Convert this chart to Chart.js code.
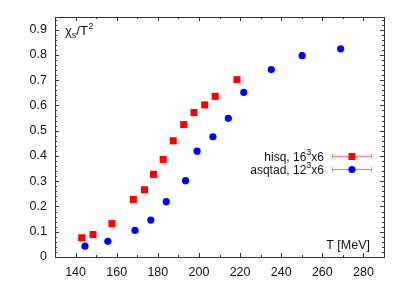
<!DOCTYPE html>
<html><head><meta charset="utf-8">
<script src="https://cdn.jsdelivr.net/npm/chart.js@4/dist/chart.umd.min.js"></script>
<style>html,body{margin:0;padding:0;background:#fff;}canvas{display:block;}</style>
</head><body>
<canvas id="c" width="407" height="285"></canvas>
<script>
const hisqT = [143, 148.5, 157.7, 168.1, 173.5, 177.9, 182.6, 187.5, 192.6, 197.6, 202.8, 207.9, 218.5];
const hisqChi = [0.076, 0.089, 0.132, 0.228, 0.266, 0.327, 0.386, 0.46, 0.524, 0.572, 0.602, 0.636, 0.702];
const asqtadT = [144.6, 155.7, 168.9, 176.6, 184.1, 193.5, 199.1, 206.8, 214.3, 221.8, 235.2, 250.2, 268.9];
const asqtadChi = [0.043, 0.062, 0.105, 0.146, 0.219, 0.302, 0.419, 0.476, 0.549, 0.652, 0.742, 0.797, 0.824];
const xTicks = [140, 160, 180, 200, 220, 240, 260, 280];
const yTicks = [0, 0.1, 0.2, 0.3, 0.4, 0.5, 0.6, 0.7, 0.8, 0.9];
// legend labels split as [base, superscript, tail]
const seriesNames = [['hisq, 16', '3', 'x6'], ['asqtad, 12', '3', 'x6']];
const FONT = '"Liberation Sans", Arial, sans-serif';

const frame = {
  id: 'frame',
  afterDraw(chart) {
    const {ctx, chartArea: a, scales: {x, y}} = chart;
    ctx.save();
    ctx.strokeStyle = '#333';
    ctx.lineWidth = 1;
    ctx.strokeRect(a.left + 0.5, a.top + 0.5, a.right - a.left, a.bottom - a.top);
    ctx.beginPath();
    for (let v = 130; v <= 290; v += 10) {
      const px = Math.round(x.getPixelForValue(v)) + 0.5;
      const L = (v % 20 === 0) ? 4 : 2;
      ctx.moveTo(px, a.bottom); ctx.lineTo(px, a.bottom - L);
      ctx.moveTo(px, a.top); ctx.lineTo(px, a.top + L);
    }
    for (let i = 0; i <= 47; i++) {
      const v = i * 0.02;
      const py = Math.round(y.getPixelForValue(v)) + 0.5;
      const L = (i % 5 === 0) ? 4 : 2;
      ctx.moveTo(a.left, py); ctx.lineTo(a.left + L, py);
      ctx.moveTo(a.right, py); ctx.lineTo(a.right - L, py);
    }
    ctx.stroke();
    // axis titles
    ctx.fillStyle = '#111';
    ctx.textBaseline = 'alphabetic';
    ctx.textAlign = 'left';
    let tx = a.left + 10, ty = a.top + 18;
    ctx.font = '13px ' + FONT;
    ctx.fillText('χ', tx, ty); tx += ctx.measureText('χ').width;
    ctx.font = '9px ' + FONT;
    ctx.fillText('s', tx, ty + 3); tx += ctx.measureText('s').width;
    ctx.font = '13px ' + FONT;
    ctx.fillText('/T', tx, ty); tx += ctx.measureText('/T').width;
    ctx.font = '9px ' + FONT;
    ctx.fillText('2', tx + 0.5, ty - 6);
    ctx.font = '12.5px ' + FONT;
    ctx.textAlign = 'right';
    ctx.fillText('T [MeV]', a.right - 14, a.bottom - 8);
    // legend
    const rows = [
      {name: seriesNames[0], y: 156, col: '#ff0000', line: '#ff8c8c', style: 'rect'},
      {name: seriesNames[1], y: 169, col: '#0000ff', line: '#8c8cff', style: 'circle'}
    ];
    rows.forEach(r => {
      const [base, sup, tail] = r.name;
      const bl = r.y + 5;
      ctx.textAlign = 'left';
      ctx.textBaseline = 'alphabetic';
      ctx.fillStyle = '#111';
      ctx.font = '12px ' + FONT;
      const wB = ctx.measureText(base).width, wT = ctx.measureText(tail).width;
      ctx.font = '9px ' + FONT;
      const wS = ctx.measureText(sup).width;
      let sx = 324 - wB - wS - wT;
      ctx.font = '12px ' + FONT;
      ctx.fillText(base, sx, bl); sx += wB;
      ctx.font = '9px ' + FONT;
      ctx.fillText(sup, sx, bl - 6); sx += wS;
      ctx.font = '12px ' + FONT;
      ctx.fillText(tail, sx, bl);
      ctx.strokeStyle = r.line;
      ctx.beginPath();
      ctx.moveTo(332, r.y + 0.5); ctx.lineTo(372, r.y + 0.5);
      ctx.moveTo(332.5, r.y - 2); ctx.lineTo(332.5, r.y + 3);
      ctx.moveTo(371.5, r.y - 2); ctx.lineTo(371.5, r.y + 3);
      ctx.stroke();
      ctx.fillStyle = r.col;
      if (r.style === 'rect') ctx.fillRect(348.5, r.y - 3, 7, 7);
      else { ctx.beginPath(); ctx.arc(352, r.y + 0.5, 3.6, 0, Math.PI * 2); ctx.fill(); }
    });
    ctx.restore();
  }
};

new Chart(document.getElementById('c'), {
  type: 'scatter',
  data: {
    datasets: [
      {label: seriesNames[0].join(''), data: hisqT.map((t, i) => ({x: t, y: hisqChi[i]})),
       pointStyle: 'rect', pointRadius: 5, backgroundColor: '#ff0000', borderWidth: 0},
      {label: seriesNames[1].join(''), data: asqtadT.map((t, i) => ({x: t, y: asqtadChi[i]})),
       pointStyle: 'circle', pointRadius: 3.6, backgroundColor: '#0000ff', borderWidth: 0}
    ]
  },
  options: {
    responsive: false,
    animation: false,
    devicePixelRatio: 1,
    layout: {padding: {left: 0, right: 23, top: 17, bottom: 0}},
    plugins: {legend: {display: false}, tooltip: {enabled: false}},
    scales: {
      x: {
        type: 'linear', min: 130, max: 290,
        grid: {display: false, drawTicks: false}, border: {display: false},
        afterBuildTicks: s => { s.ticks = xTicks.map(v => ({value: v})); },
        afterFit: s => { s.height = 28; },
        ticks: {padding: 8, color: '#111', font: {family: FONT, size: 12.5}, maxRotation: 0, autoSkip: false}
      },
      y: {
        type: 'linear', min: 0, max: 0.95,
        grid: {display: false, drawTicks: false}, border: {display: false},
        afterBuildTicks: s => { s.ticks = yTicks.map(v => ({value: v})); },
        afterFit: s => { s.width = 55; },
        ticks: {padding: 8, color: '#111', font: {family: FONT, size: 12.5}, autoSkip: false,
                callback: v => (Math.round(v * 10) / 10).toString()}
      }
    }
  },
  plugins: [frame]
});
</script>
</body></html>
